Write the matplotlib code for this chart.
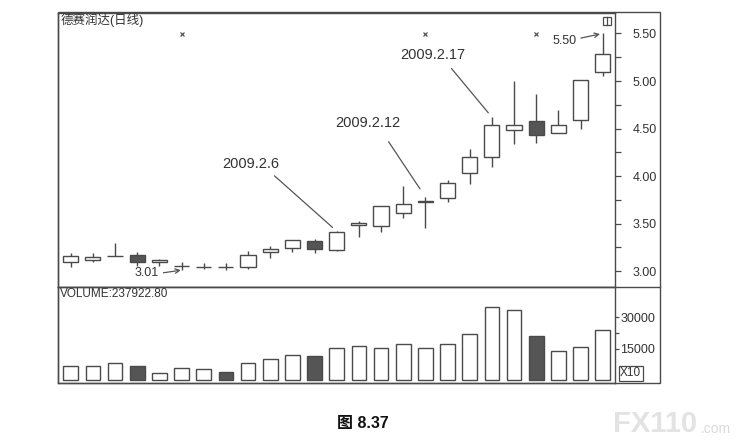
import matplotlib
matplotlib.use("Agg")
import matplotlib.pyplot as plt
from matplotlib.lines import Line2D
from matplotlib.patches import Rectangle
from matplotlib.ticker import MultipleLocator, FixedLocator

plt.rcParams['font.family'] = ['Liberation Sans', 'Noto Sans CJK SC']

# daily candles, 德赛润达
opens = [3.09, 3.12, 3.16, 3.17, 3.10, 3.05, 3.045, 3.045, 3.04, 3.20, 3.24, 3.32, 3.22,
         3.48, 3.47, 3.61, 3.73, 3.77, 4.03, 4.20, 4.48, 4.58, 4.45, 4.59, 5.10]
closes = [3.16, 3.15, 3.16, 3.09, 3.12, 3.05, 3.045, 3.04, 3.17, 3.23, 3.33, 3.23, 3.41,
          3.51, 3.68, 3.71, 3.73, 3.93, 4.20, 4.54, 4.54, 4.43, 4.54, 5.01, 5.28]
highs = [3.19, 3.19, 3.29, 3.20, 3.125, 3.10, 3.08, 3.08, 3.21, 3.26, 3.33, 3.34, 3.42,
         3.53, 3.68, 3.90, 3.78, 3.96, 4.28, 4.62, 5.00, 4.86, 4.69, 5.01, 5.50]
lows = [3.04, 3.09, 3.16, 3.05, 3.05, 3.01, 3.02, 3.01, 3.02, 3.14, 3.20, 3.19, 3.21,
        3.36, 3.41, 3.56, 3.45, 3.73, 3.92, 4.10, 4.34, 4.35, 4.45, 4.50, 5.05]
# volume in units of x10
volumes = [6900, 6900, 8200, 7000, 3400, 5900, 5600, 4200, 8300, 10300, 12200, 11500, 15300,
           16500, 15300, 17500, 15300, 17200, 22200, 34900, 33500, 21300, 13900, 15800, 23792.28]

price_ticks = [3.00, 3.50, 4.00, 4.50, 5.00, 5.50]
vol_ticks = [15000, 30000]
marker_idx = [5, 16, 21]

# (label, candle index, price, text offset in points, relpos, shrinkA, shrinkB, arrow style)
notes = [
    ("2009.2.6", 12, highs[12], (-61.7, 48.2), (0.82, 0.0), 2, 4, '-'),
    ("2009.2.12", 16, highs[16], (-41.6, 53.4), (0.70, 0.0), 8, 7, '-'),
    ("2009.2.17", 19, highs[19], (-42.8, 44.7), (0.71, 0.0), 3.5, 4, '-'),
    ("5.50", 24, highs[24], (-27.4, -5.2), (1.0, 0.65), 1, 2, '->'),
    ("3.01", 5, lows[5], (-24.8, -2.4), (1.0, 0.5), 1, 0.5, '->'),
]

W, H = 740, 448
fig = plt.figure(figsize=(W / 100, H / 100), dpi=100)
fig.patch.set_facecolor('white')

L, R, AX_R = 57.5, 660, 615
TOP, MID, BOT = 12.5, 287, 382.5
ax = fig.add_axes([L / W, 1 - MID / H, (AX_R - L) / W, (MID - TOP) / H])
axv = fig.add_axes([L / W, 1 - BOT / H, (AX_R - L) / W, (BOT - MID) / H])

edge = '#4a4a4a'
dark = '#555555'
txt = '#333333'
x = list(range(len(opens)))
up = [c >= o for o, c in zip(opens, closes)]

ax.vlines(x, lows, highs, color=edge, lw=1, zorder=2)
bottoms = [min(o, c) for o, c in zip(opens, closes)]
heights = [max(abs(c - o), 0.002) for o, c in zip(opens, closes)]
ax.bar(x, heights, bottom=bottoms, width=0.68,
       color=['white' if u else dark for u in up], edgecolor=edge, linewidth=1, zorder=3)

axv.bar(x, volumes, width=0.66, color=['white' if u else dark for u in up],
        edgecolor=edge, linewidth=1, zorder=3)

ax.set_xlim(-0.595, 24.555)
axv.set_xlim(-0.595, 24.555)
ax.set_ylim(2.832, 5.721)
axv.set_ylim(-950, 44400)

for a in (ax, axv):
    a.set_xticks([])
    a.yaxis.tick_right()
    for s in a.spines.values():
        s.set_color(edge)
        s.set_linewidth(1)

ax.yaxis.set_major_locator(FixedLocator(price_ticks))
ax.yaxis.set_minor_locator(MultipleLocator(0.25))
ax.set_yticklabels([f"{t:.2f}" for t in price_ticks])
ax.tick_params(axis='y', which='both', direction='out', length=4.5, width=0.9,
               color=edge, pad=8, labelsize=9, labelcolor=txt)

axv.yaxis.set_major_locator(FixedLocator(vol_ticks))
axv.yaxis.set_minor_locator(FixedLocator([22500]))
axv.set_yticklabels([str(t) for t in vol_ticks])
axv.tick_params(axis='y', which='both', direction='out', length=3, width=0.9,
                color=edge, pad=1, labelsize=9, labelcolor=txt)

# markers along the top
ax.plot(marker_idx, [0.92] * len(marker_idx), 'x', color='#555555', ms=3.5, mew=0.9,
        transform=ax.get_xaxis_transform(), zorder=4)

ax.text(0.005, 0.997, "德赛润达(日线)", transform=ax.transAxes, ha='left', va='top',
        fontsize=9, color=txt)
axv.text(0.005, 0.985, f"VOLUME:{volumes[-1] * 10:.2f}", transform=axv.transAxes,
         ha='left', va='top', fontsize=8.5, color=txt)

for label, i, p, off, rp, sa, sb, style in notes:
    ax.annotate(label, xy=(i, p), xytext=off, textcoords='offset points',
                ha='center', va='center', fontsize=10.5 if label.startswith('2009') else 9,
                color=txt,
                arrowprops=dict(arrowstyle=style if style == '-' else '->,head_length=0.35,head_width=0.18',
                                color='#555555', lw=0.9, relpos=rp, shrinkA=sa, shrinkB=sb))

# small window icon at top right
ax.add_patch(Rectangle((0.978, 0.953), 0.015, 0.03, transform=ax.transAxes, fill=False,
                       edgecolor=edge, lw=0.9, clip_on=False, zorder=5))
ax.plot([0.9855, 0.9855], [0.953, 0.983], color=edge, lw=0.9, transform=ax.transAxes, zorder=5)

# outer frame and divider
def fx(px):
    return px / W

def fy(py):
    return 1 - py / H

fig.add_artist(Rectangle((fx(L), fy(BOT)), fx(R) - fx(L), fy(TOP) - fy(BOT),
                         fill=False, edgecolor=edge, lw=1, transform=fig.transFigure))
fig.add_artist(Line2D([fx(L), fx(R)], [fy(MID), fy(MID)], color=edge, lw=1,
                      transform=fig.transFigure))

fig.text(fx(620), fy(373.5), "X10", fontsize=8.5, color=txt, ha='left', va='center',
         bbox=dict(boxstyle='square,pad=0.12', fc='white', ec=edge, lw=0.9))

fig.text(fx(363), fy(423), "图 8.37", fontsize=11.5, fontweight='bold', color='#111111',
         ha='center', va='center')

fig.text(fx(613), fy(424), "FX110", fontsize=21, fontweight='bold', color='#e3e3e3',
         ha='left', va='center')
fig.text(fx(701), fy(429), ".com", fontsize=10, color='#dadada', ha='left', va='center')

fig.savefig("out.png", dpi=100, facecolor='white')
